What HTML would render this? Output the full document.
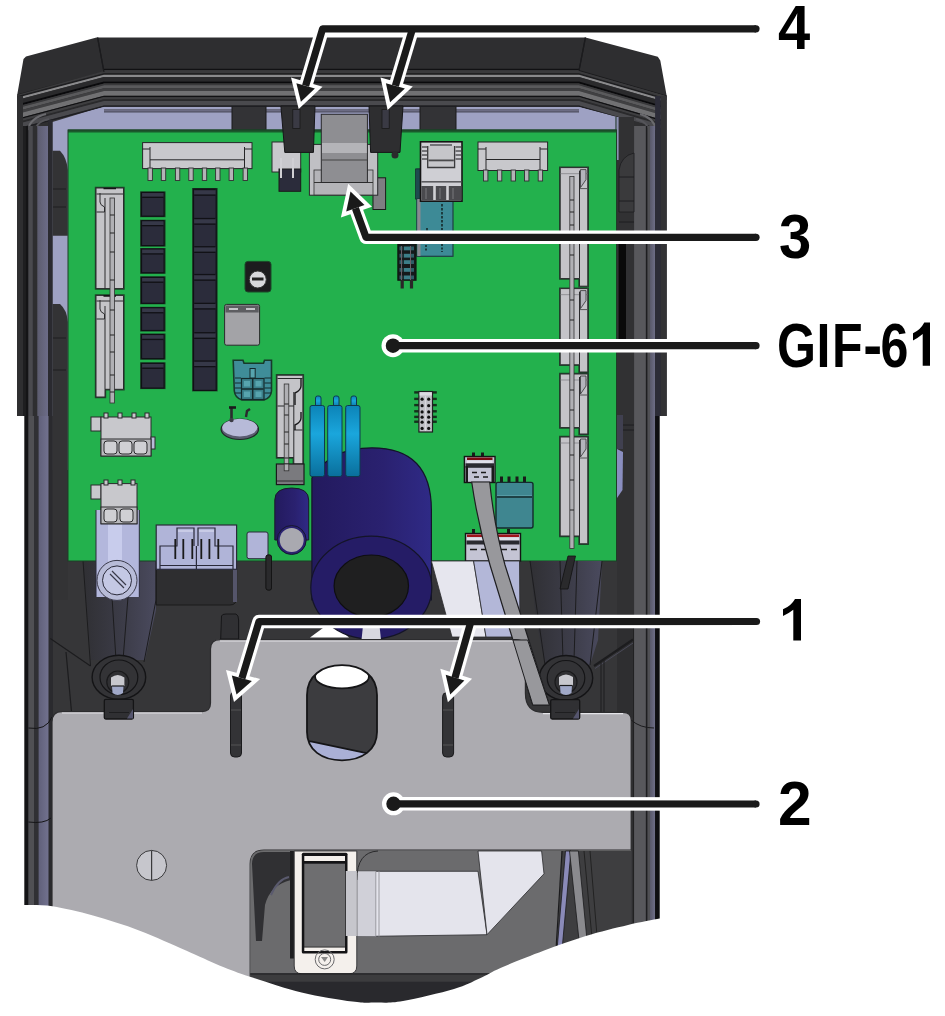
<!DOCTYPE html>
<html><head><meta charset="utf-8">
<style>
html,body{margin:0;padding:0;background:#fff;width:945px;height:1016px;overflow:hidden}
svg{display:block}
.lbl{font-family:"Liberation Sans",sans-serif;font-weight:bold;fill:#000}
</style></head>
<body>
<svg width="945" height="1016" viewBox="0 0 945 1016">
<defs>
<linearGradient id="gcap" x1="0" x2="1" y1="0" y2="0">
<stop offset="0" stop-color="#231a5e"/><stop offset="0.6" stop-color="#2a2170"/><stop offset="1" stop-color="#2f2a86"/>
</linearGradient>
<linearGradient id="gring" x1="0" x2="0" y1="0" y2="1">
<stop offset="0" stop-color="#0c84b8"/><stop offset="0.4" stop-color="#1aa6dc"/><stop offset="1" stop-color="#0a6f9c"/>
</linearGradient>
</defs>
<!-- enclosure outer -->
<path d="M17,96 L23.5,59 L26,56.5 L96.5,37.6 L585.5,37.6 L657.8,56.7 L660.3,60.5 L666.7,96 L666.7,416 L659.5,416 L659.5,1016 L25,1016 L25,416 L17,416 Z" fill="#2e2e30"/>
<!-- interior -->
<rect x="52.5" y="106" width="564.5" height="910" fill="#363638"/>
<!-- lavender window -->
<path d="M52.5,122 L104,106.2 L579,106.2 L617,117 L617,470 L52.5,470 Z" fill="#9ea1c3"/>
<rect x="104" y="106.9" width="475" height="2.1" fill="#9fa2c3"/><rect x="104" y="109" width="475" height="1.4" fill="#6a6a7e"/><rect x="104" y="110.4" width="475" height="2.2" fill="#5a5a6e"/>
<!-- blocks in top lavender -->
<rect x="232" y="106" width="34" height="24" fill="#333336" stroke="#1a1a1a" stroke-width="1"/>
<rect x="420" y="106" width="36" height="24" fill="#333336" stroke="#1a1a1a" stroke-width="1"/>
<!-- top flat band edges -->
<path d="M17.6,94.8 L104,72 L579,70.6 L666.7,96" fill="none" stroke="#1c1c1e" stroke-width="1.2"/>
<path d="M97.6,37.6 L104,72 M585.4,37.6 L579,70.6" fill="none" stroke="#1c1c1e" stroke-width="1.2"/>
<!-- ribbed band middle -->
<rect x="104" y="68.8" width="475" height="1.3" fill="#111113"/>
<rect x="104" y="70.1" width="475" height="3.1" fill="#3a3a3c"/>
<rect x="104" y="73.2" width="475" height="1.6" fill="#1e1e20"/>
<rect x="104" y="74.8" width="475" height="2.2" fill="#8a8a8c"/>
<rect x="104" y="77.0" width="475" height="4.6" fill="#2a2a2c"/>
<rect x="104" y="81.6" width="475" height="1.8" fill="#0a0a0c"/>
<rect x="104" y="83.4" width="475" height="1.8" fill="#3a3a3c"/>
<rect x="104" y="85.2" width="475" height="3.1" fill="#5a5a5c"/>
<rect x="104" y="88.3" width="475" height="2.7" fill="#404042"/>
<rect x="104" y="91.0" width="475" height="4.8" fill="#717173"/>
<rect x="104" y="95.8" width="475" height="1.3" fill="#111113"/>
<rect x="104" y="97.1" width="475" height="2.2" fill="#3e3e40"/>
<rect x="104" y="99.3" width="475" height="1.7" fill="#2a2a2c"/>
<rect x="104" y="101.0" width="475" height="4.5" fill="#4a4a4e"/>
<rect x="104" y="105.5" width="475" height="1.4" fill="#1e1e22"/>
<!-- left corner ribbed -->
<clipPath id="clc"><path d="M17.6,94.8 L104,71 L104,106.9 L50,122 L28,128 L20,128 Z"/></clipPath>
<g clip-path="url(#clc)"><g transform="translate(104,0) skewY(-14.8) translate(-104,0)">
<rect x="10" y="68.8" width="95" height="1.3" fill="#111113"/>
<rect x="10" y="70.1" width="95" height="3.1" fill="#3a3a3c"/>
<rect x="10" y="73.2" width="95" height="1.6" fill="#1e1e20"/>
<rect x="10" y="74.8" width="95" height="2.2" fill="#8a8a8c"/>
<rect x="10" y="77.0" width="95" height="4.6" fill="#2a2a2c"/>
<rect x="10" y="81.6" width="95" height="1.8" fill="#0a0a0c"/>
<rect x="10" y="83.4" width="95" height="1.8" fill="#3a3a3c"/>
<rect x="10" y="85.2" width="95" height="3.1" fill="#5a5a5c"/>
<rect x="10" y="88.3" width="95" height="2.7" fill="#404042"/>
<rect x="10" y="91.0" width="95" height="4.8" fill="#717173"/>
<rect x="10" y="95.8" width="95" height="1.3" fill="#111113"/>
<rect x="10" y="97.1" width="95" height="2.2" fill="#3e3e40"/>
<rect x="10" y="99.3" width="95" height="1.7" fill="#2a2a2c"/>
<rect x="10" y="101.0" width="95" height="4.5" fill="#4a4a4e"/>
<rect x="10" y="105.5" width="95" height="1.4" fill="#1e1e22"/>
</g></g>
<path d="M28,130 Q30,118 46,114" stroke="#6a6a6e" stroke-width="2" fill="none"/><path d="M36,128 Q38,121 49,119" stroke="#55555a" stroke-width="2" fill="none"/>
<path d="M97.6,37.6 L104,72" stroke="#1c1c1e" stroke-width="1.2"/>
<!-- right corner ribbed -->
<clipPath id="crc"><path d="M579,71 L666.7,96 L664,128 L656,128 L638,122 L579,106.9 Z"/></clipPath>
<g clip-path="url(#crc)"><g transform="translate(579,0) skewY(16.2) translate(-579,0)">
<rect x="578" y="68.8" width="95" height="1.3" fill="#111113"/>
<rect x="578" y="70.1" width="95" height="3.1" fill="#3a3a3c"/>
<rect x="578" y="73.2" width="95" height="1.6" fill="#1e1e20"/>
<rect x="578" y="74.8" width="95" height="2.2" fill="#8a8a8c"/>
<rect x="578" y="77.0" width="95" height="4.6" fill="#2a2a2c"/>
<rect x="578" y="81.6" width="95" height="1.8" fill="#0a0a0c"/>
<rect x="578" y="83.4" width="95" height="1.8" fill="#3a3a3c"/>
<rect x="578" y="85.2" width="95" height="3.1" fill="#5a5a5c"/>
<rect x="578" y="88.3" width="95" height="2.7" fill="#404042"/>
<rect x="578" y="91.0" width="95" height="4.8" fill="#717173"/>
<rect x="578" y="95.8" width="95" height="1.3" fill="#111113"/>
<rect x="578" y="97.1" width="95" height="2.2" fill="#3e3e40"/>
<rect x="578" y="99.3" width="95" height="1.7" fill="#2a2a2c"/>
<rect x="578" y="101.0" width="95" height="4.5" fill="#4a4a4e"/>
<rect x="578" y="105.5" width="95" height="1.4" fill="#1e1e22"/>
</g></g>
<path d="M656,130 Q654,118 640,114" stroke="#6a6a6e" stroke-width="2" fill="none"/><path d="M648,128 Q646,121 636,119" stroke="#55555a" stroke-width="2" fill="none"/>
<path d="M585.4,37.6 L579,70.6" stroke="#1c1c1e" stroke-width="1.2"/>
<!-- left wall -->
<defs>
<linearGradient id="gwl" x1="0" x2="1" y1="0" y2="0"><stop offset="0" stop-color="#5c5c6e"/><stop offset="1" stop-color="#6c6c88"/></linearGradient>
<linearGradient id="gwl2" x1="0" x2="1" y1="0" y2="0"><stop offset="0" stop-color="#60607a"/><stop offset="1" stop-color="#72728f"/></linearGradient>
<linearGradient id="gwr" x1="0" x2="1" y1="0" y2="0"><stop offset="0" stop-color="#58586a"/><stop offset="1" stop-color="#6e6e88"/></linearGradient>
</defs>
<rect x="17" y="96" width="6" height="320" fill="#2e2e30"/>
<rect x="23" y="126" width="2.9" height="290" fill="#1e1e20"/>
<rect x="24.3" y="416" width="4.1" height="600" fill="#141416"/>
<rect x="25.9" y="126" width="2.5" height="290" fill="#141416"/>
<rect x="28.4" y="126" width="4.5" height="290" fill="#4a4a4e"/>
<rect x="32.9" y="126" width="4.4" height="290" fill="#2e2e30"/>
<rect x="37.3" y="126" width="10.8" height="290" fill="url(#gwl)"/>
<rect x="48.1" y="120" width="4.4" height="296" fill="#2a2a30"/>
<rect x="28.4" y="416" width="5.6" height="600" fill="#505054"/>
<rect x="34" y="416" width="4.6" height="600" fill="#303034"/>
<rect x="38.6" y="416" width="10.1" height="600" fill="url(#gwl2)"/>
<rect x="48.7" y="416" width="4.2" height="600" fill="#2a2a2e"/>
<path d="M28.4,728 Q46,731 52,717 M28.4,822 Q44,824 51,818" stroke="#151517" stroke-width="1" fill="none"/>
<!-- right wall -->
<rect x="615.5" y="117" width="1.5" height="444" fill="#0e2a14"/>
<rect x="616.7" y="117" width="1.9" height="444" fill="#6a6a80"/>
<rect x="618.6" y="117" width="7.3" height="499" fill="#080808"/>
<rect x="625.9" y="117" width="7.3" height="499" fill="#333335"/>
<rect x="633.2" y="126" width="1" height="890" fill="#1e1e20"/>
<rect x="634.1" y="126" width="11.8" height="890" fill="#58585c"/>
<rect x="645.9" y="126" width="1.6" height="890" fill="#1e1e20"/>
<rect x="647.5" y="126" width="2.5" height="890" fill="#505054"/>
<rect x="650" y="126" width="5.1" height="890" fill="url(#gwr)"/>
<rect x="655.1" y="96" width="5.7" height="320" fill="#2c2c38"/>
<rect x="660.8" y="96" width="5.9" height="320" fill="#333335"/>
<rect x="655.1" y="416" width="4.4" height="600" fill="#0e0e12"/>
<defs>
<linearGradient id="gpil" x1="0" x2="1" y1="0" y2="0">
<stop offset="0" stop-color="#303034"/><stop offset="0.55" stop-color="#3c3c48"/><stop offset="1" stop-color="#4a4a5e"/>
</linearGradient>
</defs>
<!-- left pillar -->
<path d="M83,561 L156,561 L156,610 L145,660 L91,660 Z" fill="url(#gpil)"/>
<path d="M83,561 L90.5,666 M128,597 L123,660 M112,597 L116,660 M156,561 L156,600 L144,662" stroke="#1c1c1e" stroke-width="1" fill="none"/>
<path d="M50.3,638.6 L90.5,666 M66,652 L71.5,711.6" stroke="#1c1c1e" stroke-width="1.2" fill="none"/>
<!-- left gap bumps -->
<path d="M52.5,150.7 L60,150.7 Q67,158 67.8,170 L67.8,235.8 L52.5,235.8 Z" fill="#333335"/>
<path d="M52.5,304 L60,304 Q67,310 67.8,322 L67.8,600 L52.5,600 Z" fill="#333335"/>
<path d="M53,207 H66 M53,189 H66 M53,338 H66 M53,370 H66" stroke="#1f1f21" stroke-width="1"/>
<!-- right gap -->
<rect x="617" y="117" width="17" height="499" fill="#313133"/>
<rect x="616.5" y="117" width="2.1" height="43" fill="#8e92b4"/>
<rect x="618.6" y="236" width="7.4" height="112" fill="#0a0a0a"/>
<path d="M634,153 Q621,156 619,170 L619,212 L634,212 Z" fill="#3a3a3c" stroke="#1c1c1e" stroke-width="0.8"/>
<path d="M619,177 H634 M619,201 H634 M619,222 H634" stroke="#1c1c1e" stroke-width="0.9"/>
<path d="M617,415 L623,415 L623,449 L617,449 Z" fill="#404050"/>
<path d="M617,449 L623,452 L622.5,490 L617,498 Z" fill="#8a8ec0"/>
<path d="M623,425 H634 M623,430 H634" stroke="#1c1c1e" stroke-width="0.9"/>
<!-- PCB -->
<rect x="68" y="130" width="548.5" height="431" fill="#23b14d"/>
<rect x="68" y="129.5" width="548.5" height="3" fill="#1a5a2c"/>
<rect x="68" y="130" width="548.5" height="431" fill="none" stroke="#1c3f26" stroke-width="1"/>

<g stroke="#262628" stroke-width="1">
<!-- top 8-pin connector -->
<rect x="142.6" y="142.6" width="109.4" height="26" fill="#c8c8cc"/>
<path d="M150,159.8 H244.5 M150,147 V168 M244.5,147 V168 M142.6,149 H150 M244.5,149 H252" fill="none"/>
</g>
<g fill="#b4b4b8" stroke="#303032" stroke-width="0.9">
<rect x="148" y="168" width="4.4" height="12.5"/><rect x="161.3" y="168" width="4.4" height="12.5"/>
<rect x="175.4" y="168" width="4.4" height="12.5"/><rect x="188.8" y="168" width="4.4" height="12.5"/>
<rect x="202.3" y="168" width="4.4" height="12.5"/><rect x="215.6" y="168" width="4.4" height="12.5"/>
<rect x="229.1" y="168" width="4.4" height="12.5"/><rect x="243.1" y="168" width="4.4" height="12.5"/>
</g>
<!-- 5-pin connector -->
<g stroke="#262628" stroke-width="1">
<rect x="478" y="142" width="69.6" height="28.5" fill="#c8c8cc"/>
<path d="M486,159.5 H540 M486,147 V170 M540,147 V170 M478,149 H486 M540,149 H547.6" fill="none"/>
</g>
<g fill="#b4b4b8" stroke="#303032" stroke-width="0.9">
<rect x="483.5" y="170" width="4.4" height="11"/><rect x="497.4" y="170" width="4.4" height="11"/>
<rect x="511.1" y="170" width="4.4" height="11"/><rect x="524.5" y="170" width="4.4" height="11"/>
<rect x="538.2" y="170" width="4.4" height="11"/>
</g>
<!-- left long vertical connector -->
<path d="M96,188 H123.5 V288.6 H96 Z M96,295.4 H123.5 V389.3 H105 V397 H96 Z" fill="#1b4a2a" stroke="#1b4a2a" stroke-width="2.4"/>
<path d="M96,188 H123.5 V288.6 H96 Z" fill="#c4c4c8" stroke="#2a2a2c" stroke-width="1"/>
<path d="M96,295.4 H123.5 V389.3 H105 V397 H96 Z" fill="#c4c4c8" stroke="#2a2a2c" stroke-width="1"/>
<path d="M105,198 V288.6 M105,306 V389.3 M96.5,194 H123 M96.5,301 H123" stroke="#2a2a2c" stroke-width="1"/>
<path d="M100,193 V202 Q100,205 104.5,207 V212 H96.5 M100,300 V309 Q100,312 104.5,314 V319 H96.5" fill="none" stroke="#2a2a2c" stroke-width="1"/><path d="M103.5,188.5 H116 M103.5,295.9 H116" stroke="#141416" stroke-width="1.6"/>
<rect x="110" y="198" width="4.4" height="205" fill="#b0b0b4" stroke="#333" stroke-width="0.8"/>
<path d="M110,215 H114.4 M110,233 H114.4 M110,252 H114.4 M110,280 H114.4 M110,310 H114.4 M110,335 H114.4 M110,352 H114.4 M110,375 H114.4 M110,392 H114.4" stroke="#222" stroke-width="1.2"/>
<!-- small squares -->
<rect x="140" y="191.4" width="25.6" height="25.8" fill="#1b4a2a"/><rect x="141.5" y="192.4" width="22.6" height="23.8" fill="#2b2c3b" stroke="#101014" stroke-width="1.2"/><rect x="142.2" y="193.1" width="21.2" height="3.6" fill="#363848"/><rect x="142.2" y="196.7" width="21.2" height="1.3" fill="#111116"/>
<rect x="140" y="219.7" width="25.6" height="26.9" fill="#1b4a2a"/><rect x="141.5" y="220.7" width="22.6" height="24.9" fill="#2b2c3b" stroke="#101014" stroke-width="1.2"/><rect x="142.2" y="221.4" width="21.2" height="3.6" fill="#363848"/><rect x="142.2" y="225.0" width="21.2" height="1.3" fill="#111116"/>
<rect x="140" y="248.0" width="25.6" height="25.8" fill="#1b4a2a"/><rect x="141.5" y="249.0" width="22.6" height="23.8" fill="#2b2c3b" stroke="#101014" stroke-width="1.2"/><rect x="142.2" y="249.7" width="21.2" height="3.6" fill="#363848"/><rect x="142.2" y="253.3" width="21.2" height="1.3" fill="#111116"/>
<rect x="140" y="276.3" width="25.6" height="28.0" fill="#1b4a2a"/><rect x="141.5" y="277.3" width="22.6" height="26.0" fill="#2b2c3b" stroke="#101014" stroke-width="1.2"/><rect x="142.2" y="278.0" width="21.2" height="3.6" fill="#363848"/><rect x="142.2" y="281.6" width="21.2" height="1.3" fill="#111116"/>
<rect x="140" y="306.8" width="25.6" height="24.7" fill="#1b4a2a"/><rect x="141.5" y="307.8" width="22.6" height="22.7" fill="#2b2c3b" stroke="#101014" stroke-width="1.2"/><rect x="142.2" y="308.5" width="21.2" height="3.6" fill="#363848"/><rect x="142.2" y="312.1" width="21.2" height="1.3" fill="#111116"/>
<rect x="140" y="333.5" width="25.6" height="26.2" fill="#1b4a2a"/><rect x="141.5" y="334.5" width="22.6" height="24.2" fill="#2b2c3b" stroke="#101014" stroke-width="1.2"/><rect x="142.2" y="335.2" width="21.2" height="3.6" fill="#363848"/><rect x="142.2" y="338.8" width="21.2" height="1.3" fill="#111116"/>
<rect x="140" y="362.3" width="25.6" height="26.8" fill="#1b4a2a"/><rect x="141.5" y="363.3" width="22.6" height="24.8" fill="#2b2c3b" stroke="#101014" stroke-width="1.2"/><rect x="142.2" y="364.0" width="21.2" height="3.6" fill="#363848"/><rect x="142.2" y="367.6" width="21.2" height="1.3" fill="#111116"/>
<!-- tall column -->
<rect x="192" y="188" width="25.7" height="203.4" fill="#1b4a2a"/>
<rect x="193.5" y="189" width="22.7" height="201.4" fill="#2b2c3b" stroke="#101014" stroke-width="1.2"/>
<rect x="194.2" y="189.5" width="21.3" height="5" fill="#363848"/><rect x="194.2" y="188.9" width="21.3" height="1.3" fill="#111116"/><rect x="194.2" y="194.5" width="21.3" height="1.3" fill="#111116"/>
<rect x="194.2" y="218.5" width="21.3" height="5" fill="#363848"/><rect x="194.2" y="217.9" width="21.3" height="1.3" fill="#111116"/><rect x="194.2" y="223.5" width="21.3" height="1.3" fill="#111116"/>
<rect x="194.2" y="246.7" width="21.3" height="5" fill="#363848"/><rect x="194.2" y="246.1" width="21.3" height="1.3" fill="#111116"/><rect x="194.2" y="251.7" width="21.3" height="1.3" fill="#111116"/>
<rect x="194.2" y="274.5" width="21.3" height="5" fill="#363848"/><rect x="194.2" y="273.9" width="21.3" height="1.3" fill="#111116"/><rect x="194.2" y="279.5" width="21.3" height="1.3" fill="#111116"/>
<rect x="194.2" y="303.3" width="21.3" height="5" fill="#363848"/><rect x="194.2" y="302.7" width="21.3" height="1.3" fill="#111116"/><rect x="194.2" y="308.3" width="21.3" height="1.3" fill="#111116"/>
<rect x="194.2" y="332.7" width="21.3" height="5" fill="#363848"/><rect x="194.2" y="332.1" width="21.3" height="1.3" fill="#111116"/><rect x="194.2" y="337.7" width="21.3" height="1.3" fill="#111116"/>
<rect x="194.2" y="361.0" width="21.3" height="5" fill="#363848"/><rect x="194.2" y="360.4" width="21.3" height="1.3" fill="#111116"/><rect x="194.2" y="366.0" width="21.3" height="1.3" fill="#111116"/>
<!-- potentiometer -->
<rect x="245" y="261.4" width="26" height="30.6" rx="3" fill="#1c1c1e" stroke="#1a4a28" stroke-width="1"/>
<circle cx="257.8" cy="279.5" r="8.5" fill="#d8d8dc" stroke="#333" stroke-width="1"/>
<rect x="252" y="277.5" width="11.5" height="3" fill="#222"/>
<!-- inductor -->
<rect x="224.6" y="304.4" width="35" height="40.8" rx="2" fill="#a3a3a7" stroke="#2a2a2c" stroke-width="1"/>
<rect x="225.5" y="305.5" width="33.2" height="7" fill="#5d5d61"/>
<path d="M229,309 H238 M246,309 H255" stroke="#e8e8ec" stroke-width="1.5"/>
<!-- teal connector -->
<path d="M233.2,360.3 L243,360.3 L244,363.2 L263.5,363.2 L264.5,360.3 L271.5,360.3 L271.5,391 Q271,398 264,400 L242,400 Q235,398 234.3,391 Z" fill="#3f8d99" stroke="#173a2a" stroke-width="1.6"/>
<rect x="241.5" y="378.5" width="22.5" height="21" fill="#3a7f8a" stroke="#142a2c" stroke-width="1.2"/>
<path d="M252.7,379 V399.5 M242,389 H263.5" stroke="#142a2c" stroke-width="1.5"/>
<rect x="244" y="381" width="6" height="5.5" fill="#57a4ae"/><rect x="255.5" y="381" width="6" height="5.5" fill="#57a4ae"/>
<rect x="244" y="391.5" width="6" height="5.5" fill="#57a4ae"/><rect x="255.5" y="391.5" width="6" height="5.5" fill="#57a4ae"/>
<rect x="250" y="368.5" width="5.2" height="9.5" fill="#57a4ae" stroke="#142a2c" stroke-width="1"/>
<path d="M235,378 H241 M235,383 H241 M235,388 H241 M235,393 H241 M264.5,378 H271 M264.5,383 H271 M264.5,388 H271 M264.5,393 H271" stroke="#142a2c" stroke-width="1"/>
<!-- coin battery -->
<ellipse cx="239.8" cy="429.3" rx="18.7" ry="10.2" fill="#5a5c70" stroke="#1e2a26" stroke-width="1.2"/>
<ellipse cx="239.8" cy="427.6" rx="17.6" ry="8.8" fill="#b7bad8"/>
<path d="M231.5,418 V407" stroke="#2a2a2e" stroke-width="2.6"/><path d="M229,407.5 H236" stroke="#1a1a1c" stroke-width="2.6"/>
<path d="M246,417 L247,411 L250,409" stroke="#2a2a2e" stroke-width="2.4" fill="none"/>
<circle cx="231.5" cy="420" r="2.2" fill="#3a3a44"/>
<!-- 3-pin connector -->
<g stroke="#2a2a2c" stroke-width="1" fill="#c8c8cc">
<rect x="91" y="417" width="10" height="14"/>
<rect x="101" y="417" width="50" height="39"/>
<rect x="151" y="437" width="4" height="12" fill="#b8bcd8"/>
<rect x="104" y="413" width="4" height="5"/><rect x="118" y="413" width="4" height="5"/><rect x="132" y="413" width="4" height="5"/><rect x="145" y="413" width="4" height="5"/>
<rect x="101" y="439" width="50" height="17" fill="#b8b8bc"/>
<rect x="104" y="441" width="13" height="13" rx="3" fill="#d0d0d4"/><rect x="119" y="441" width="13" height="13" rx="3" fill="#d0d0d4"/><rect x="134" y="441" width="13" height="13" rx="3" fill="#d0d0d4"/>
</g>
<!-- 2-pin connector + cylinder -->
<path d="M96,510 L139.3,510 L139.3,597 L96,597 Z" fill="#b3b7dc"/>
<rect x="108" y="510" width="14" height="87" fill="#c8ccec"/>
<path d="M96,510 V597 M139.3,510 V597" stroke="#2a2a3a" stroke-width="1"/>
<g stroke="#2a2a2c" stroke-width="1" fill="#c8c8cc">
<rect x="91" y="485" width="10" height="14"/>
<rect x="101" y="483.6" width="36" height="40.2"/>
<rect x="104" y="480" width="4" height="5"/><rect x="118" y="480" width="4" height="5"/><rect x="131" y="480" width="4" height="5"/>
<rect x="101" y="507" width="36" height="16.8" fill="#b8b8bc"/>
<rect x="104" y="509" width="13" height="13" rx="3" fill="#d0d0d4"/><rect x="120" y="509" width="13" height="13" rx="3" fill="#d0d0d4"/>
</g>
<!-- cylinder screw head -->
<circle cx="117" cy="580.4" r="20" fill="#b8bcd8" stroke="#3a3a4a" stroke-width="1"/>
<circle cx="117" cy="580.4" r="14.5" fill="#c4c8e4" stroke="#2a2a3a" stroke-width="1"/>
<path d="M110,574 L124,588 M112,571 L126,585" stroke="#3a3a4a" stroke-width="1.2"/>
<!-- small vertical connector mid -->
<path d="M277,375.2 H302.9 V464 H293.8 V457.5 H277 Z" fill="#1b4a2a" stroke="#1b4a2a" stroke-width="2.4"/>
<path d="M277,375.2 H302.9 V464 H293.8 V457.5 H277 Z" fill="#c4c4c8" stroke="#2a2a2c" stroke-width="1"/>
<path d="M293.8,392 V457.5 M277.5,406 H293.8 M294,430 H302.5 M277.5,378.5 H302.5" stroke="#2a2a2c" stroke-width="1" fill="none"/>
<path d="M301,379 V386 Q301,390 295,393 V405 M301,412 V418 Q301,422 295,425 V430" stroke="#1a1a1c" stroke-width="1.4" fill="none"/>
<rect x="284.2" y="384" width="4.6" height="86.8" fill="#b0b0b4" stroke="#333" stroke-width="0.8"/>
<path d="M284.3,404 H288.7 M284.3,415 H288.7 M284.3,432 H288.7 M284.3,444 H288.7 M284.3,458 H288.7" stroke="#222" stroke-width="1.2"/>
<rect x="276.4" y="464" width="27.6" height="20.6" fill="#7a7a7e" stroke="#1a1a1c" stroke-width="1.2"/>
<path d="M277,481 H303.5" stroke="#3a3a3c" stroke-width="1.2"/>
<rect x="284.2" y="464" width="4.6" height="6.8" fill="#b0b0b4" stroke="#333" stroke-width="0.8"/>
<!-- RJ connector and teal module -->
<rect x="416.8" y="169" width="36.2" height="87.3" fill="#3d8a96" stroke="#1f3f44" stroke-width="1.2"/>
<rect x="415.5" y="169" width="5.5" height="30" fill="#1e4a4e" stroke="#143030" stroke-width="0.8"/>
<rect x="417.3" y="199" width="3.2" height="57" fill="#8a8a90"/>
<path d="M442,204 V230 M427,228 V232 M443,236 V241" stroke="#14282a" stroke-width="1.6" stroke-dasharray="2.5,1.5" fill="none"/><path d="M426,238 V252 M442,244 V252" stroke="#14282a" stroke-width="1.6" stroke-dasharray="2,1.5" fill="none"/>
<rect x="420.5" y="141.8" width="41.5" height="59.4" fill="#cfcfd4" stroke="#141414" stroke-width="1.6"/>
<path d="M427.7,146 V167.5 H454.6 V146" fill="#c6c6ca" stroke="#3a3a3c" stroke-width="1.3"/>
<rect x="428.5" y="159.5" width="25.3" height="1.8" fill="#4a4a4c"/>
<path d="M422,147 H427 M422,151 H427 M422,155 H427 M422,159 H427 M455.5,147 H461 M455.5,151 H461 M455.5,155 H461 M455.5,159 H461 M430,145 H452" stroke="#555558" stroke-width="1.3"/>
<rect x="421.3" y="181" width="40" height="1.6" fill="#5a5a5e"/>
<rect x="421.3" y="186" width="40" height="14.5" fill="#4a4a4e"/>
<path d="M434.5,186 V200 M447.5,186 V200" stroke="#d0d0d4" stroke-width="2.6"/>
<path d="M426,188 V199 M440,188 V199 M453,188 V199" stroke="#6a6a6e" stroke-width="1.5"/>
<!-- pin header -->
<rect x="397.9" y="243.7" width="18.1" height="36.5" fill="#15191a" stroke="#0e1a12" stroke-width="1.2"/>
<rect x="403.8" y="246.5" width="6.2" height="3.8" fill="#3c7e88"/><rect x="399.5" y="246.5" width="3" height="3.8" fill="#2e5e66"/><rect x="411" y="246.5" width="3" height="3.8" fill="#2e5e66"/>
<rect x="403.8" y="253.8" width="6.2" height="3.8" fill="#3c7e88"/><rect x="399.5" y="253.8" width="3" height="3.8" fill="#2e5e66"/><rect x="411" y="253.8" width="3" height="3.8" fill="#2e5e66"/>
<rect x="403.8" y="260.2" width="6.2" height="3.8" fill="#3c7e88"/><rect x="399.5" y="260.2" width="3" height="3.8" fill="#2e5e66"/><rect x="411" y="260.2" width="3" height="3.8" fill="#2e5e66"/>
<rect x="403.8" y="268.0" width="6.2" height="3.8" fill="#3c7e88"/><rect x="399.5" y="268.0" width="3" height="3.8" fill="#2e5e66"/><rect x="411" y="268.0" width="3" height="3.8" fill="#2e5e66"/>
<rect x="403.8" y="275.5" width="6.2" height="3.8" fill="#3c7e88"/><rect x="399.5" y="275.5" width="3" height="3.8" fill="#2e5e66"/><rect x="411" y="275.5" width="3" height="3.8" fill="#2e5e66"/>
<path d="M401.5,246 V280 M410.5,246 V280" stroke="#6a6068" stroke-width="1"/>
<path d="M402.2,280 V288.5 M411.5,280 V288.5" stroke="#2a2628" stroke-width="3.2"/>
<!-- small 2-pin top -->
<rect x="272" y="142" width="28.7" height="30" fill="#c8c8cc" stroke="#2a2a2c" stroke-width="1"/>
<rect x="279" y="169" width="21.7" height="22.3" fill="#2b2c3b" stroke="#1a1a1a" stroke-width="1"/>
<path d="M281,158 V178 M293,158 V178" stroke="#d0d0d4" stroke-width="2"/>
<!-- ribbon connector housing -->
<rect x="373" y="177.8" width="12.6" height="31.7" fill="#7e7e82" stroke="#1a1a1a" stroke-width="1"/>
<rect x="309.4" y="144.4" width="68.3" height="50.8" fill="#c0c0c4" stroke="#2a2a2c" stroke-width="1"/>
<rect x="314" y="170" width="59" height="25" fill="#b4b4b8" stroke="#333" stroke-width="0.8"/>
<path d="M314,182.5 H373" stroke="#333" stroke-width="1"/>
<rect x="321.3" y="114.3" width="46.1" height="68.2" fill="#8e8e92" stroke="#2a2a2c" stroke-width="1"/>
<rect x="322" y="143" width="44.8" height="10" fill="#b4b4b8"/>
<path d="M322,160 H367" stroke="#444" stroke-width="1"/>
<!-- dark clips -->
<path d="M280.9,106 L315,106 L313.4,152.4 L284.8,152.4 Z" fill="#2e2e30" stroke="#161618" stroke-width="1"/>
<rect x="292.8" y="109.5" width="7.2" height="19" fill="#3a3a44" stroke="#1a1a1a" stroke-width="0.8"/>
<path d="M369,106 L403,106 L400,152.4 L370.6,152.4 Z" fill="#2e2e30" stroke="#161618" stroke-width="1"/>
<rect x="382" y="109.5" width="7.2" height="19" fill="#3a3a44" stroke="#1a1a1a" stroke-width="0.8"/>
<circle cx="395" cy="155" r="3.5" fill="#2a2a2c"/>
<!-- right vertical connectors -->
<path d="M560.2,167.6 H587.8 V286.2 H579.5 V278.6 H560.2 Z" fill="#1b4a2a" transform="translate(0,0)" stroke="#1b4a2a" stroke-width="2.4"/>
<path d="M560.2,288.6 H587.8 V372.0 H579.5 V364.8 H560.2 Z" fill="#1b4a2a" transform="translate(0,0)" stroke="#1b4a2a" stroke-width="2.4"/>
<path d="M560.2,374.0 H587.8 V434.0 H579.5 V427.6 H560.2 Z" fill="#1b4a2a" transform="translate(0,0)" stroke="#1b4a2a" stroke-width="2.4"/>
<path d="M560.2,437.0 H587.8 V543.8 H579.5 V536.0 H560.2 Z" fill="#1b4a2a" transform="translate(0,0)" stroke="#1b4a2a" stroke-width="2.4"/>
<path d="M560.2,167.6 H587.8 V286.2 H579.5 V278.6 H560.2 Z" fill="#c4c4c8" stroke="#2a2a2c" stroke-width="1"/>
<path d="M560.8,173.6 H587.2" stroke="#9a9a9e" stroke-width="1.2"/><path d="M579.5,170.6 V278.6" stroke="#2a2a2c" stroke-width="1"/><path d="M580.5,169.6 L586,169.6 L586,179.6 L580.5,187.6 Z" fill="#b4b4bc" stroke="#333" stroke-width="0.8"/><path d="M580,188.6 H587" stroke="#555" stroke-width="1"/>
<path d="M560.2,288.6 H587.8 V372.0 H579.5 V364.8 H560.2 Z" fill="#c4c4c8" stroke="#2a2a2c" stroke-width="1"/>
<path d="M560.8,294.6 H587.2" stroke="#9a9a9e" stroke-width="1.2"/><path d="M579.5,291.6 V364.8" stroke="#2a2a2c" stroke-width="1"/><path d="M580.5,290.6 L586,290.6 L586,300.6 L580.5,308.6 Z" fill="#b4b4bc" stroke="#333" stroke-width="0.8"/><path d="M580,309.6 H587" stroke="#555" stroke-width="1"/>
<path d="M560.2,374.0 H587.8 V434.0 H579.5 V427.6 H560.2 Z" fill="#c4c4c8" stroke="#2a2a2c" stroke-width="1"/>
<path d="M560.8,380.0 H587.2" stroke="#9a9a9e" stroke-width="1.2"/><path d="M579.5,377.0 V427.6" stroke="#2a2a2c" stroke-width="1"/><path d="M580.5,376.0 L586,376.0 L586,386.0 L580.5,394.0 Z" fill="#b4b4bc" stroke="#333" stroke-width="0.8"/><path d="M580,395.0 H587" stroke="#555" stroke-width="1"/>
<path d="M560.2,437.0 H587.8 V543.8 H579.5 V536.0 H560.2 Z" fill="#c4c4c8" stroke="#2a2a2c" stroke-width="1"/>
<path d="M560.8,443.0 H587.2" stroke="#9a9a9e" stroke-width="1.2"/><path d="M579.5,440.0 V536.0" stroke="#2a2a2c" stroke-width="1"/><path d="M580.5,439.0 L586,439.0 L586,449.0 L580.5,457.0 Z" fill="#b4b4bc" stroke="#333" stroke-width="0.8"/><path d="M580,458.0 H587" stroke="#555" stroke-width="1"/>
<rect x="569.8" y="176.5" width="4.2" height="372" fill="#b0b0b4" stroke="#333" stroke-width="0.8"/>
<path d="M570,200 H574 M570,212 H574 M570,225 H574 M570,240 H574 M570,255 H574 M570,300 H574 M570,320 H574 M570,345 H574 M570,390 H574 M570,410 H574 M570,455 H574 M570,480 H574 M570,510 H574" stroke="#222" stroke-width="1.2"/>
<!-- pin header chip -->
<rect x="414.2" y="391.2" width="22.6" height="2.4" fill="#14301c"/><rect x="414.2" y="397.7" width="22.6" height="2.4" fill="#14301c"/><rect x="414.2" y="403.9" width="22.6" height="2.4" fill="#14301c"/><rect x="414.2" y="410.1" width="22.6" height="2.4" fill="#14301c"/><rect x="414.2" y="415.7" width="22.6" height="2.4" fill="#14301c"/><rect x="414.2" y="420.5" width="22.6" height="2.4" fill="#14301c"/>
<rect x="418.9" y="391.5" width="13.6" height="40.5" fill="#c0c0c6" stroke="#1e1e20" stroke-width="1.2"/>
<rect x="419.6" y="392.3" width="12.2" height="3.2" fill="#dcdce2"/>
<path d="M425.5,396 V431" stroke="#d8d8de" stroke-width="1.2"/>
<circle cx="422.1" cy="399.2" r="1.6" fill="#111"/><circle cx="428.7" cy="399.2" r="1.6" fill="#111"/><circle cx="422.1" cy="405.7" r="1.6" fill="#111"/><circle cx="428.7" cy="405.7" r="1.6" fill="#111"/><circle cx="422.1" cy="411.9" r="1.6" fill="#111"/><circle cx="428.7" cy="411.9" r="1.6" fill="#111"/><circle cx="422.1" cy="417.2" r="1.6" fill="#111"/><circle cx="428.7" cy="417.2" r="1.6" fill="#111"/><circle cx="422.1" cy="422.2" r="1.6" fill="#111"/><circle cx="428.7" cy="422.2" r="1.6" fill="#111"/><circle cx="422.1" cy="428.4" r="1.6" fill="#111"/><circle cx="428.7" cy="428.4" r="1.6" fill="#111"/>
<!-- small capacitor -->
<path d="M274.8,500 Q274.8,488 291.7,488 Q308.7,488 308.7,500 L308.7,540 L274.8,540 Z" fill="url(#gcap)" stroke="#1a1a2a" stroke-width="1"/>
<circle cx="291.7" cy="540" r="14.5" fill="#2a2270" stroke="#161630" stroke-width="1"/>
<circle cx="291.7" cy="540" r="12" fill="#a9a9b0"/>
<!-- big capacitor -->
<path d="M311.9,478 Q330,447.8 372,447.8 Q431.4,447.8 431.4,510 L431.4,600 L311.9,600 Z" fill="url(#gcap)" stroke="#141428" stroke-width="1.2"/>
<!-- blue rings -->
<g fill="url(#gring)" stroke="#0e3a50" stroke-width="1">
<rect x="315.5" y="396" width="5.5" height="12" rx="2"/><rect x="333.5" y="396" width="5.5" height="12" rx="2"/><rect x="351" y="396" width="5.5" height="12" rx="2"/>
<rect x="310" y="405.5" width="14.5" height="71" rx="2"/>
<rect x="327.7" y="405.5" width="14.3" height="71" rx="2"/>
<rect x="345.7" y="405.5" width="14.3" height="71" rx="2"/>
</g>
<!-- ribbon & small connectors near bottom right -->
<g fill="#1a1a1a"><rect x="472" y="452.5" width="3" height="4.5"/><rect x="481" y="452.5" width="3" height="4.5"/></g>
<rect x="464.4" y="456.5" width="30.6" height="26" fill="#c4c4d4" stroke="#141414" stroke-width="1.4"/>
<rect x="467" y="457.5" width="25.5" height="2.6" fill="#7a0a10"/>
<rect x="467" y="460.3" width="25.5" height="3" fill="#e0e0ea"/>
<rect x="465.5" y="463.3" width="28.5" height="4.5" fill="#2a2a30"/>
<rect x="465.5" y="466" width="2.5" height="16" fill="#1a1a1a"/><rect x="491.5" y="466" width="2.5" height="16" fill="#1a1a1a"/>
<path d="M472,472.5 H477 M481,472.5 H486 M474,477 H479 M483,477 H488" stroke="#1a1a1a" stroke-width="1.6"/>
<g fill="#1a1a1a"><rect x="500" y="476.5" width="3" height="6"/><rect x="507.5" y="476.5" width="3" height="6"/><rect x="515.5" y="476.5" width="3" height="6"/><rect x="523" y="476.5" width="3" height="6"/></g>
<rect x="496" y="482.4" width="37" height="45.6" rx="2" fill="#3f8690" stroke="#142a2c" stroke-width="1.4"/>
<path d="M497,497 H532" stroke="#142a2c" stroke-width="1.4"/>
<path d="M497,495.5 H532" stroke="#5aa0aa" stroke-width="0.8"/>
<g fill="#1a1a1a"><rect x="472" y="529" width="3" height="5"/><rect x="507" y="529" width="3" height="5"/></g>
<rect x="465.5" y="533.5" width="55" height="27.5" fill="#c4c4d4" stroke="#141414" stroke-width="1.4"/>
<rect x="467" y="534.5" width="52" height="2.6" fill="#a0141a"/>
<rect x="467" y="537.3" width="52" height="3" fill="#e0e0ea"/>
<rect x="466.5" y="540.5" width="53" height="4" fill="#2a2a30"/>
<path d="M470,549.5 H477 M481,549.5 H488 M500,549.5 H507 M511,549.5 H517" stroke="#1a1a1a" stroke-width="1.6"/>
<!-- box connector bottom left -->
<path d="M156.2,569 H236.6 V598 Q236.6,605 230,605 H156.2 Z" fill="#2e2e30" stroke="#1a1a1a" stroke-width="1"/>
<rect x="233" y="569" width="4" height="33" fill="#55556a"/>
<rect x="156.2" y="525" width="80.4" height="44.3" fill="#b0b4d8" stroke="#2a2a3a" stroke-width="1.2"/>
<path d="M160,569 V546 H177 V528 H194 V546 M198,546 V528 H215 V546 H233 V569" fill="none" stroke="#2a2a3a" stroke-width="1.2"/>
<path d="M178,531 H193 M199,531 H214" stroke="#e0e2f4" stroke-width="1.2"/>
<path d="M160,565.5 H233" stroke="#2a2a3a" stroke-width="1"/>
<path d="M196.4,546 V569" stroke="#2a2a3a" stroke-width="1.2"/>
<path d="M175.3,539 V559 M183.3,539 V559 M192.3,539 V559 M201.3,539 V559 M209.4,539 V559 M218.3,539 V559" stroke="#1a1a1a" stroke-width="1.8"/>
<!-- small lavender square -->
<rect x="247" y="532" width="21" height="26.7" rx="2" fill="#b0b4d8" stroke="#2a2a3a" stroke-width="1"/>
<rect x="266" y="555" width="5.5" height="35" rx="2" fill="#2a2a2c" stroke="#111" stroke-width="0.8"/>
<!-- lower interior details (between PCB and plate) -->

<!-- left boss -->
<ellipse cx="118.9" cy="677.3" rx="26.8" ry="22" fill="#333336" stroke="#141416" stroke-width="1.4"/>
<ellipse cx="118.9" cy="677.3" rx="18.9" ry="17.3" fill="none" stroke="#141416" stroke-width="1.2"/>
<circle cx="117.8" cy="682" r="11" fill="#303033" stroke="#1a1a1c" stroke-width="1.2"/>
<path d="M111,677.5 Q117.7,672.5 124.4,677.5 L124.4,686 L111,686 Z" fill="#c8c8ce"/>
<path d="M112,686 H123.5 L123,693 Q117.7,697 112.5,693 Z" fill="#a0a8c8"/>
<path d="M111.5,686 H124" stroke="#1a1a1c" stroke-width="1.2"/>
<!-- tab near step -->
<path d="M220.7,639 L221.5,616 Q222,614 226,614 L236,614 Q238.6,615 238.6,620 L238.6,639 Z" fill="#303033" stroke="#161618" stroke-width="1"/>
<!-- pin under small square -->
<rect x="266" y="555" width="5.5" height="35" rx="2" fill="#2a2a2c" stroke="#111" stroke-width="0.8"/>
<!-- white shapes under capacitor -->
<path d="M310,637.5 L325,626.5 L336,626.5 L349,637.5 Z" fill="#ffffff"/>
<!-- right side: white region, ribbons -->
<path d="M431.4,561 L473.6,561 L486,637 L452,637 Z" fill="#e6e6ee" stroke="#2a2a2c" stroke-width="0.8"/>
<path d="M473.6,561 L519.5,561 L520,637 L486,637 Z" fill="#b3b7d8" stroke="#2a2a2c" stroke-width="0.8"/>
<!-- right pillar -->
<path d="M530,561 L602,561 L598,640 L590,665 L545,665 L536,620 Z" fill="url(#gpil)"/>
<path d="M530,561 L545,665 M602,561 L590,665 M560,561 L563,660 M577,561 L574,660" stroke="#1c1c1e" stroke-width="1" fill="none"/>
<path d="M594,666 L633,639.5" stroke="#1c1c1e" stroke-width="2.2" fill="none"/><path d="M595,668.5 L633,643" stroke="#4a4a58" stroke-width="1" fill="none"/><path d="M601,662 V712 M604,660 V712" stroke="#1c1c1e" stroke-width="1" fill="none"/>
<path d="M568,556 L575.5,556 L568,589 L560,589 Z" fill="#2a2a2c" stroke="#111" stroke-width="0.8"/>
<!-- right boss -->
<ellipse cx="566" cy="678" rx="26.7" ry="22.5" fill="#333336" stroke="#141416" stroke-width="1.4"/>
<ellipse cx="566" cy="678" rx="18.8" ry="17.5" fill="none" stroke="#141416" stroke-width="1.2"/>
<circle cx="566" cy="682" r="11" fill="#303033" stroke="#1a1a1c" stroke-width="1.2"/>
<path d="M559,677 Q566,672 573,677 L573,685.5 L559,685.5 Z" fill="#c8c8ce"/>
<path d="M560,685.5 H572 L571.5,693 Q566,697 560.5,693 Z" fill="#a0a8c8"/>
<path d="M559.5,685.5 H572.5" stroke="#1a1a1c" stroke-width="1.2"/>
<!-- gray ribbon cable -->
<path d="M471.7,482 Q478,525 490,565 L532.8,705 L549.3,705 L505,565 Q494,525 489.7,482 Z" fill="#98989c" stroke="#1e1e20" stroke-width="1.2"/>
<!-- capacitor bottom -->
<ellipse cx="371.3" cy="587.6" rx="60.5" ry="51.4" fill="#251c66" stroke="#141428" stroke-width="1.2"/>
<ellipse cx="371.3" cy="586" rx="37.2" ry="31" fill="#1f1f20" stroke="#0e0e10" stroke-width="1.2"/>
<path d="M362.8,627.4 L379.7,627.4 L381,640 L361.5,640 Z" fill="#d8d8e0"/>
<!-- plate -->
<path d="M52,722 Q52,711.6 62,711.6 L202,711.6 Q210.5,711.6 210.5,703 L210.5,649 Q210.5,639.6 220,639.6 L516,639.6 Q525.4,639.6 525.4,650 L525.4,693 Q525.4,712.3 543,712.3 L623,712.3 Q631.2,712.3 631.2,720 L631.2,850.2 L264,850.2 Q250.2,850.2 250.2,864 L250.2,1016 L52,1016 Z" fill="#acabb0" stroke="#2c2c2e" stroke-width="1.2"/>
<path d="M62,713 L202,713 M220,641 L516,641 M543,713.6 L623,713.6" stroke="#e4e4e8" stroke-width="1.2" fill="none"/>
<!-- re-draw gray ribbon over plate edge region -->
<path d="M512.9,640 L527.7,640 L549.3,705 L532.8,705 Z" fill="#98989c" stroke="#1e1e20" stroke-width="1"/>
<!-- boss tabs over plate -->
<rect x="104.3" y="699.3" width="29.1" height="19.7" rx="1.5" fill="#303033" stroke="#141416" stroke-width="1.3"/>
<path d="M109,712.5 H129" stroke="#1e1e20" stroke-width="1"/>
<path d="M133,709 L133,718.5 L127,718.5 Z" fill="#55556e"/>
<rect x="550.7" y="699.6" width="29" height="19.4" rx="1.5" fill="#303033" stroke="#141416" stroke-width="1.3"/>
<path d="M555,712.5 H575" stroke="#1e1e20" stroke-width="1"/>
<path d="M579,709 L579,718.5 L573,718.5 Z" fill="#55556e"/>
<!-- slots -->
<rect x="230.5" y="692" width="11" height="65" rx="4" fill="#333336" stroke="#1a1a1c" stroke-width="1"/>
<path d="M231,710 H241 M231,745 H241" stroke="#555" stroke-width="1"/>
<rect x="442.6" y="692.7" width="11" height="64.3" rx="4" fill="#333336" stroke="#1a1a1c" stroke-width="1"/>
<path d="M443,710 H453 M443,745 H453" stroke="#555" stroke-width="1"/>
<!-- oval hole -->
<defs><clipPath id="ovalclip"><path d="M342,665.2 C362,665.2 377,676 377,695 L377,732 C377,750 362,760.3 342,760.3 C322,760.3 307,750 307,732 L307,695 C307,676 322,665.2 342,665.2 Z"/></clipPath></defs>
<path d="M342,665.2 C362,665.2 377,676 377,695 L377,732 C377,750 362,760.3 342,760.3 C322,760.3 307,750 307,732 L307,695 C307,676 322,665.2 342,665.2 Z" fill="#3c3c3f"/>
<g clip-path="url(#ovalclip)">
<ellipse cx="342" cy="676.5" rx="27" ry="11.8" fill="#ffffff" stroke="#151517" stroke-width="1.8"/>
<path d="M300,740.5 L312,741.6 L363,752.4 L385,756 L385,770 L300,770 Z" fill="#aab0d6" stroke="#151517" stroke-width="1.6"/>
</g>
<path d="M342,665.2 C362,665.2 377,676 377,695 L377,732 C377,750 362,760.3 342,760.3 C322,760.3 307,750 307,732 L307,695 C307,676 322,665.2 342,665.2 Z" fill="none" stroke="#151517" stroke-width="1.8"/>
<!-- small screw on plate -->
<circle cx="151.6" cy="865.4" r="15" fill="#c6c6cc" stroke="#3a3a3c" stroke-width="1"/>
<path d="M151.6,850.4 V880.4" stroke="#3a3a3c" stroke-width="1.2"/>
<!-- plate right under-step line -->
<path d="M631.2,720 Q640,728 654,728" stroke="#1c1c1e" stroke-width="1" fill="none"/>

<!-- cutout contents -->
<path d="M250.2,1016 L250.2,864 Q250.2,850.2 264,850.2 L631.2,850.2 L631.2,1016 Z" fill="#6b6b6d"/>
<path d="M252,864 Q252,852 264,852 L291,852 L291,880 Q270,885 265,905 L262,941 L256,941 Z" fill="#303033"/>
<path d="M290,851 L294,851 L294,958.5 L290,958.5 Z" fill="#1e1e20"/>
<path d="M271,895 Q278,879 289,877" stroke="#5a5a6e" stroke-width="2" fill="none"/>
<!-- ribbon -->
<path d="M356.8,871.3 L478,871.3 L487,934.7 L356.8,936.5 Z" fill="#e4e4ec" stroke="#2a2a2c" stroke-width="0.8"/>
<rect x="356.8" y="871.3" width="19" height="65" fill="#d0d0d8"/>
<path d="M375.8,871.3 V936.5 M379,871.3 V936.5" stroke="#9a9aa0" stroke-width="1"/>
<path d="M478,851 L541.6,851 L544,873.8 L487,934.7 Z" fill="#e4e4ec" stroke="#2a2a2c" stroke-width="0.8"/>
<path d="M356.8,880 Q356.8,852 378,851" stroke="#2a2a2c" stroke-width="1" fill="none"/>
<!-- beige connector -->
<path d="M294.2,851 L356.8,851 L356.8,966 Q356.8,973.8 349,973.8 L302,973.8 Q294.2,973.8 294.2,966 Z" fill="#f4f0ec" stroke="#3a3a3c" stroke-width="1"/>
<rect x="301.8" y="852.7" width="45.7" height="100.7" rx="1.5" fill="#141416"/>
<rect x="304.3" y="856" width="40.7" height="5" fill="#f4f0ec"/>
<rect x="304.3" y="947.5" width="40.7" height="3.5" fill="#f4f0ec"/>
<rect x="304.3" y="863.7" width="40.7" height="83" fill="#6e6e70"/>
<rect x="345.8" y="871" width="11" height="65" fill="#c6c6cc"/>
<circle cx="324.7" cy="959.4" r="9.5" fill="none" stroke="#6a6a6c" stroke-width="1"/>
<circle cx="324.7" cy="959.4" r="6" fill="none" stroke="#6a6a6c" stroke-width="1"/>
<path d="M321,957 H328 L324.7,962 Z" fill="#888"/>
<!-- right part of cutout -->
<path d="M562,851 L631.2,851 L631.2,1016 L553,1016 Z" fill="#3e3e40"/>
<path d="M562,851 L553,1000" stroke="#1a1a1c" stroke-width="1.2" fill="none"/>
<path d="M565.5,851 L571,851 L562,950 L557,950 Z" fill="#8a8ab8" stroke="#1a1a1c" stroke-width="0.8"/>
<path d="M569.5,851 L578.4,851 L587,940 L579,940 Z" fill="#8a8a8e" stroke="#1a1a1c" stroke-width="0.8"/>
<path d="M584,851 L594,960 M590,851 L599,960" stroke="#222" stroke-width="1" fill="none"/>
<!-- bottom bands -->
<rect x="250.2" y="973.8" width="381" height="8" fill="#3c3c3e"/>
<path d="M250.2,973.8 H631.2" stroke="#1e1e20" stroke-width="1.2"/>
<rect x="250.2" y="981.5" width="381" height="40" fill="#29292d"/>
<!-- callouts -->
<g fill="none" stroke-linejoin="round" stroke-linecap="butt">
<g stroke="#ffffff" stroke-width="13.5">
<path d="M756,28.8 L322.6,28.8 L305.6,85.8"/><path d="M412.5,28.8 L395.4,85.8"/>
<path d="M756,237.3 L366,237.3 L355.4,208.3"/>
<path d="M756,345.7 L393,345.7"/>
<path d="M756.5,621.5 L259,621.6 L241.9,678.2"/><path d="M470.9,621.6 L455,677.7"/>
<path d="M756,804 L393.5,803.8"/>
</g>
</g>
<g fill="#ffffff">
<path d="M298.7,109.1 L291.0,77.6 L322.5,86.7 Z"/>
<path d="M387.6,110.0 L380.5,77.5 L412.8,86.5 Z"/>
<path d="M348.2,183.8 L340.9,217.6 L372.0,206.8 Z"/>
<path d="M234.0,702.1 L226.0,670.0 L260.2,679.0 Z"/>
<path d="M447.9,702.2 L440.3,668.7 L472.1,678.8 Z"/>
<circle cx="393" cy="345.7" r="11.5"/>
<circle cx="393.5" cy="803.8" r="11.5"/>
</g>
<g fill="none" stroke="#1a1a1a" stroke-width="7.2" stroke-linejoin="round" stroke-linecap="butt">
<path d="M756,28.8 L322.6,28.8 L305.6,85.8"/><path d="M412.5,28.8 L395.4,85.8"/>
<path d="M756,237.3 L366,237.3 L355.4,208.3"/>
<path d="M756,345.7 L393,345.7"/>
<path d="M756.5,621.5 L259,621.6 L241.9,678.2"/><path d="M470.9,621.6 L455,677.7"/>
<path d="M756,804 L393.5,803.8"/>
</g>
<g fill="#1a1a1a">
<path d="M300.9,101.7 L296.4,83.2 L314.9,88.5 Z"/>
<path d="M390.1,102.3 L385.9,83.2 L404.9,88.5 Z"/>
<path d="M350.5,191.6 L346.2,211.5 L364.5,205.1 Z"/>
<path d="M236.5,694.5 L231.8,675.6 L251.9,680.9 Z"/>
<path d="M450.2,694.4 L445.7,674.7 L464.4,680.6 Z"/>
<circle cx="393" cy="345.7" r="7.2"/>
<circle cx="393.5" cy="803.8" r="7.2"/>
<circle cx="756" cy="28.8" r="3.6"/><circle cx="756" cy="237.3" r="3.6"/><circle cx="756" cy="345.7" r="3.6"/>
<circle cx="756.5" cy="621.5" r="3.6"/><circle cx="756" cy="804" r="3.6"/>
</g>
<!-- wave -->
<path d="M0,880 L0,905 L24.4,905 C29.1,905.2 41.0,904.5 52.4,906.3 C63.8,908.1 78.5,911.5 93.0,915.6 C107.5,919.7 124.2,924.9 139.7,930.7 C155.2,936.5 172.6,944.7 186.0,950.5 C199.4,956.3 209.2,961.3 220.0,965.7 C230.8,970.1 237.2,972.5 250.8,977.0 C264.4,981.5 284.7,988.4 301.6,992.5 C318.5,996.6 340.0,999.9 352.4,1001.6 C364.8,1003.3 367.6,1002.7 376.0,1002.6 C384.4,1002.5 390.0,1003.3 403.0,1001.0 C416.0,998.7 441.2,992.8 454.0,989.0 C466.8,985.2 472.2,981.8 480.0,978.3 C487.8,974.8 490.4,972.3 501.0,967.7 C511.6,963.1 529.4,956.1 543.5,950.8 C557.6,945.5 571.7,940.3 585.8,936.0 C599.9,931.7 615.7,927.9 628.0,925.0 C640.3,922.1 654.2,919.7 659.5,918.6 L945,918.6 L945,1016 L0,1016 Z" fill="#ffffff"/>
<!-- labels -->
<g class="lbl" font-size="63">
<text transform="translate(778,48.5) scale(0.92,1)">4</text>
<text transform="translate(779,258) scale(0.92,1)">3</text>
<text transform="translate(777,366.5) scale(0.796,1)">G</text>
<text transform="translate(816.5,366.5) scale(0.796,1)">I</text>
<text transform="translate(832,366.5) scale(0.796,1)">F</text>
<text transform="translate(863.3,366.5) scale(0.9,1)">-</text>
<text transform="translate(880.4,366.5) scale(0.796,1)">6</text>
<text transform="translate(778,825) scale(0.96,1)">2</text>
</g>
<path d="M924.3,322.6 L930,322.6 L930,365.8 L922.7,365.8 L922.7,333.9 Q917.7,338 913,340.4 L913,333.3 Q920.5,330 924.3,322.6 Z" fill="#000"/>
<path d="M795,598.9 L801,598.9 L801,640.5 L793.3,640.5 L793.3,609.8 Q788,614 783,616 L783,609.2 Q791,606 795,598.9 Z" fill="#000"/>
</svg>
</body></html>
